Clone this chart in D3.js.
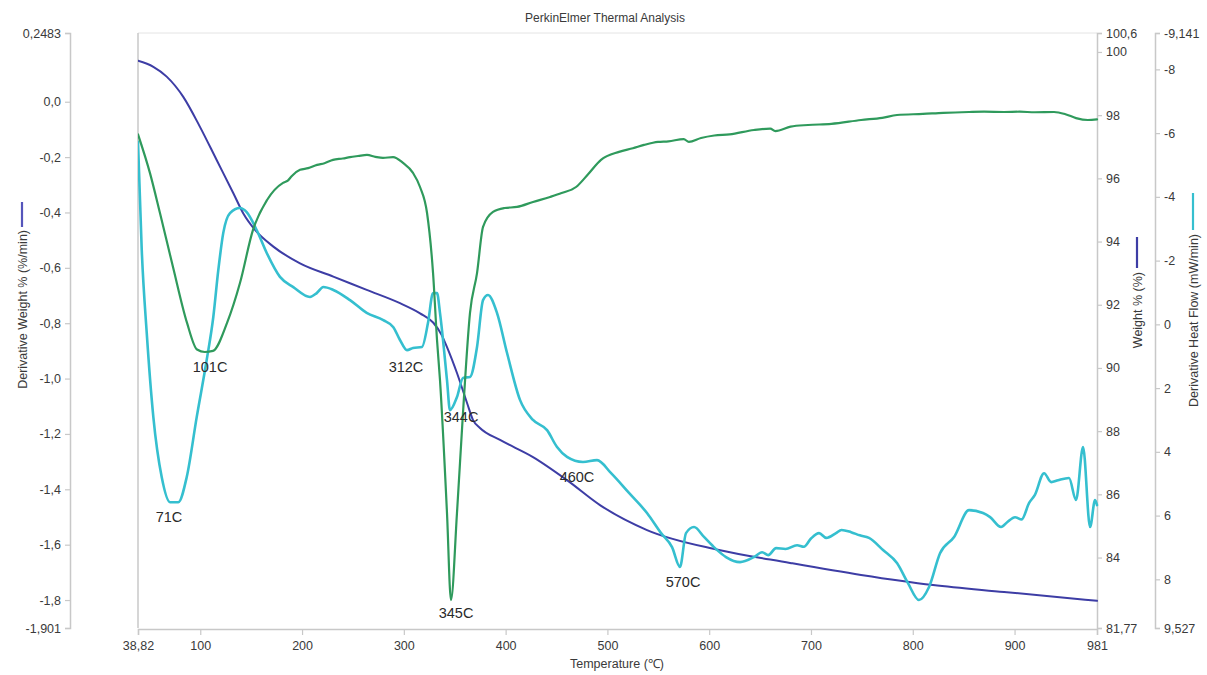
<!DOCTYPE html>
<html><head><meta charset="utf-8">
<script src="https://cdn.jsdelivr.net/npm/d3@7"></script>
<style>
html,body{margin:0;padding:0;background:#fff;}
svg{display:block;font-family:"Liberation Sans",Arial,sans-serif;}
</style></head>
<body><svg id="c" width="1207" height="675"></svg>
<script>
// ---------- data ----------
const xTicks = [38.82, 100, 200, 300, 400, 500, 600, 700, 800, 900, 981];
const xTickLabels = ["38,82","100","200","300","400","500","600","700","800","900","981"];
const dtgTicks = [0.2483, 0.0, -0.2, -0.4, -0.6, -0.8, -1.0, -1.2, -1.4, -1.6, -1.8, -1.901];
const dtgTickLabels = ["0,2483","0,0","-0,2","-0,4","-0,6","-0,8","-1,0","-1,2","-1,4","-1,6","-1,8","-1,901"];
const wTicks = [100.6, 100, 98, 96, 94, 92, 90, 88, 86, 84, 81.77];
const wTickLabels = ["100,6","100","98","96","94","92","90","88","86","84","81,77"];
const hfTicks = [-9.141, -8, -6, -4, -2, 0, 2, 4, 6, 8, 9.527];
const hfTickLabels = ["-9,141","-8","-6","-4","-2","0","2","4","6","8","9,527"];

// Weight % (blue) [temperature, %]
const weightT = [38.82,53.9,67.0,83.3,99.7,116.1,132.5,142.3,153.8,171.8,198.0,230.7,263.5,296.2,315.9,329.0,337.2,342.4,352.2,362.1,368.0,374.8,394.5,426.9,460.3,492.7,538.9,609.6,679.4,749.2,819.9,889.7,981];
const weightV = [99.72,99.53,99.22,98.58,97.63,96.58,95.53,94.89,94.37,93.84,93.31,92.89,92.47,92.05,91.73,91.43,91.04,90.66,89.84,88.89,88.35,88.10,87.72,87.18,86.45,85.66,84.87,84.24,83.83,83.45,83.13,82.91,82.63];

// Derivative weight (green) [temperature, %/min]
const dtgT = [38.82,50.6,60.4,73.2,87.0,96.8,104.5,112.5,126.3,139.0,151.8,165.6,181.3,186.0,190.0,198.0,206.0,214.7,222.0,230.4,240.0,247.1,255.0,263.8,272.0,279.5,289.4,299.2,309.0,315.9,322.8,328.7,332.6,335.5,342.4,346.3,352.2,358.1,365.0,371.9,377.8,387.6,399.0,411.2,426.9,443.6,455.0,469.2,481.0,493.7,511.4,525.0,536.0,549.7,560.0,575.0,580.0,592.0,605.0,620.0,644.0,660.0,665.0,680.0,697.1,720.0,749.2,770.0,784.5,810.0,830.0,855.3,870.0,889.7,905.0,920.0,938.8,950.0,960.4,972.0,981];
const dtgV = [-0.118,-0.258,-0.402,-0.597,-0.799,-0.895,-0.904,-0.900,-0.799,-0.655,-0.463,-0.355,-0.293,-0.285,-0.268,-0.246,-0.240,-0.228,-0.222,-0.210,-0.205,-0.200,-0.196,-0.192,-0.199,-0.203,-0.200,-0.221,-0.257,-0.308,-0.402,-0.619,-0.861,-1.005,-1.486,-1.800,-1.486,-1.125,-0.763,-0.619,-0.452,-0.398,-0.384,-0.380,-0.362,-0.344,-0.330,-0.308,-0.262,-0.210,-0.181,-0.168,-0.156,-0.145,-0.143,-0.135,-0.145,-0.131,-0.122,-0.118,-0.102,-0.097,-0.106,-0.090,-0.084,-0.080,-0.066,-0.058,-0.048,-0.044,-0.040,-0.037,-0.036,-0.037,-0.036,-0.038,-0.037,-0.045,-0.059,-0.066,-0.064];

// Derivative heat flow (cyan) [temperature, mW/min]
const hfT = [38.82,42.5,47.4,53.9,62.1,70.3,78.4,86.7,96.5,106.3,112.8,117.7,122.6,129.2,139.0,145.6,155.4,165.3,178.3,191.4,207.8,214.4,220.9,230.7,247.1,263.5,279.8,289.7,296.2,303.1,309.0,317.8,323.7,328.7,332.6,335.5,342.4,345.3,352.2,358.1,365.0,371.9,377.8,382.7,391.5,401.4,414.1,426.9,440.7,450.5,460.3,476.0,489.8,503.6,521.2,538.9,552.7,563.5,571.3,577.2,585.1,594.9,605.7,616.5,630.3,644.0,652.0,658.0,665.7,675.0,686.3,693.0,700.0,707.9,715.0,724.6,730.0,739.4,748.0,757.0,770.8,784.5,795.3,806.1,816.0,826.8,840.6,855.3,869.0,876.0,886.7,893.0,900.5,907.0,914.2,920.0,929.0,936.0,942.7,953.5,960.4,967.3,974.2,979.1,981];
const hfV = [-5.73,-2.33,0.27,2.91,4.79,5.58,5.58,4.79,2.91,1.12,-0.23,-1.70,-2.87,-3.49,-3.65,-3.52,-2.96,-2.24,-1.49,-1.17,-0.86,-0.98,-1.17,-1.08,-0.76,-0.36,-0.13,0.09,0.49,0.81,0.74,0.71,-0.04,-0.98,-0.98,-0.36,1.75,2.69,2.28,1.68,1.65,0.71,-0.76,-0.92,-0.36,0.90,2.37,3.00,3.32,3.85,4.16,4.32,4.26,4.67,5.29,5.92,6.55,6.99,7.61,6.55,6.36,6.67,7.02,7.30,7.46,7.30,7.15,7.24,7.02,7.05,6.93,6.98,6.72,6.55,6.70,6.55,6.45,6.52,6.62,6.70,7.08,7.49,8.12,8.65,8.24,7.18,6.67,5.83,5.92,6.05,6.36,6.20,6.05,6.12,5.61,5.35,4.67,4.95,4.89,4.82,5.51,3.85,6.36,5.51,5.67];

// Annotations: label, temperature, axis, value
const annoLabels = ["71C","101C","312C","344C","345C","460C","570C"];
const annoT      = [69.3, 109.6, 302.1, 356.2, 351.3, 470.1, 574.3];
const annoAxis   = ["hf","dtg","hf","hf","dtg","hf","hf"];
const annoV      = [6.05, -0.958, 1.339, 2.908, -1.847, 4.79, 8.09];

// ---------- chart ----------
const svg = d3.select("#c");
const L = 138, R = 1097, T = 33, B = 628;
const axisColor = "#c8c8c8", textColor = "#3a3a3a";
const cBlue = "#3d3da5", cGreen = "#2f9a5c", cCyan = "#35bfcf";

const x = d3.scaleLinear().domain([38.82, 981]).range([L, R]);
const yD = d3.scaleLinear().domain([-1.901, 0.2483]).range([B, T]);
const yW = d3.scaleLinear().domain([81.77, 100.6]).range([B, T]);
const yH = d3.scaleLinear().domain([-9.141, 9.527]).range([T, B]);

// title
svg.append("text").attr("x", 605).attr("y", 22).attr("text-anchor","middle")
  .attr("font-size", 12).attr("fill", textColor).text("PerkinElmer Thermal Analysis");

// frame lines
svg.append("line").attr("x1", L).attr("x2", R).attr("y1", T).attr("y2", T).attr("stroke", "#e4e4e4");
svg.append("line").attr("x1", L).attr("x2", L).attr("y1", T).attr("y2", B).attr("stroke", axisColor).attr("stroke-width",1.5);

function styleAxis(g){
  g.selectAll("path.domain").attr("stroke", axisColor).attr("stroke-width",1.5);
  g.selectAll(".tick line").attr("stroke", axisColor).attr("stroke-width",1.2);
  g.selectAll(".tick text").attr("fill", textColor).attr("font-size", 12.5)
    .attr("font-family","'Liberation Sans',Arial,sans-serif");
}
function lab(ticks, labels){ return d => labels[ticks.indexOf(d)]; }

// x axis
const gx = svg.append("g").attr("transform", `translate(0,${B+1})`)
  .call(d3.axisBottom(x).tickValues(xTicks).tickFormat(lab(xTicks,xTickLabels)).tickSizeOuter(0).tickSize(6).tickPadding(6));
styleAxis(gx);
svg.append("text").attr("x", 617).attr("y", 668).attr("text-anchor","middle")
  .attr("font-size", 12.5).attr("fill", textColor).text("Temperature (℃)");

// left DTG axis
const gl = svg.append("g").attr("transform", "translate(70,0)")
  .call(d3.axisLeft(yD).tickValues(dtgTicks).tickFormat(lab(dtgTicks,dtgTickLabels)).tickSizeOuter(0).tickSize(5).tickPadding(4));
styleAxis(gl);

// right weight axis
const gw = svg.append("g").attr("transform", `translate(${R},0)`)
  .call(d3.axisRight(yW).tickValues(wTicks).tickFormat(lab(wTicks,wTickLabels)).tickSizeOuter(0).tickSize(5).tickPadding(4));
styleAxis(gw);

// right heat flow axis
const gh = svg.append("g").attr("transform", "translate(1155,0)")
  .call(d3.axisRight(yH).tickValues(hfTicks).tickFormat(lab(hfTicks,hfTickLabels)).tickSizeOuter(0).tickSize(5).tickPadding(4));
styleAxis(gh);

// axis titles with colour markers
function vTitle(xp, yEnd, markTop, markBot, color, txt){
  svg.append("line").attr("x1", xp).attr("x2", xp).attr("y1", markTop).attr("y2", markBot)
    .attr("stroke", color).attr("stroke-width", 2.2);
  svg.append("text").attr("transform", `translate(${xp+4.5},${yEnd}) rotate(-90)`)
    .attr("text-anchor","end").attr("font-size", 12.5).attr("fill", textColor).text(txt);
}
vTitle(22, 230, 202, 227, "#5555bb", "Derivative Weight % (%/min)");
vTitle(1137, 272, 237, 268, cBlue, "Weight % (%)");
vTitle(1193, 234, 193, 230, cCyan, "Derivative Heat Flow (mW/min)");

// curves
const clip = svg.append("clipPath").attr("id","pc").append("rect")
  .attr("x", L).attr("y", T-2).attr("width", R-L+2).attr("height", B-T+4);
const plot = svg.append("g").attr("clip-path","url(#pc)");

function drawLine(ts, vs, ys, color, w){
  const data = ts.map((t,i)=>[t, vs[i]]);
  plot.append("path").datum(data)
    .attr("fill","none").attr("stroke", color).attr("stroke-width", w)
    .attr("stroke-linejoin","round").attr("stroke-linecap","round")
    .attr("d", d3.line().x(d=>x(d[0])).y(d=>ys(d[1])).curve(d3.curveMonotoneX));
}
drawLine(weightT, weightV, yW, cBlue, 2);
drawLine(hfT, hfV, yH, cCyan, 2.6);
drawLine(dtgT, dtgV, yD, cGreen, 2.2);

// annotations
const yMap = {hf: yH, dtg: yD};
annoLabels.forEach((s,i)=>{
  svg.append("text").attr("x", x(annoT[i])).attr("y", yMap[annoAxis[i]](annoV[i]))
    .attr("text-anchor","middle").attr("dominant-baseline","central")
    .attr("font-size", 14.5).attr("fill", "#2a2a2a").text(s);
});
</script>
</body></html>
